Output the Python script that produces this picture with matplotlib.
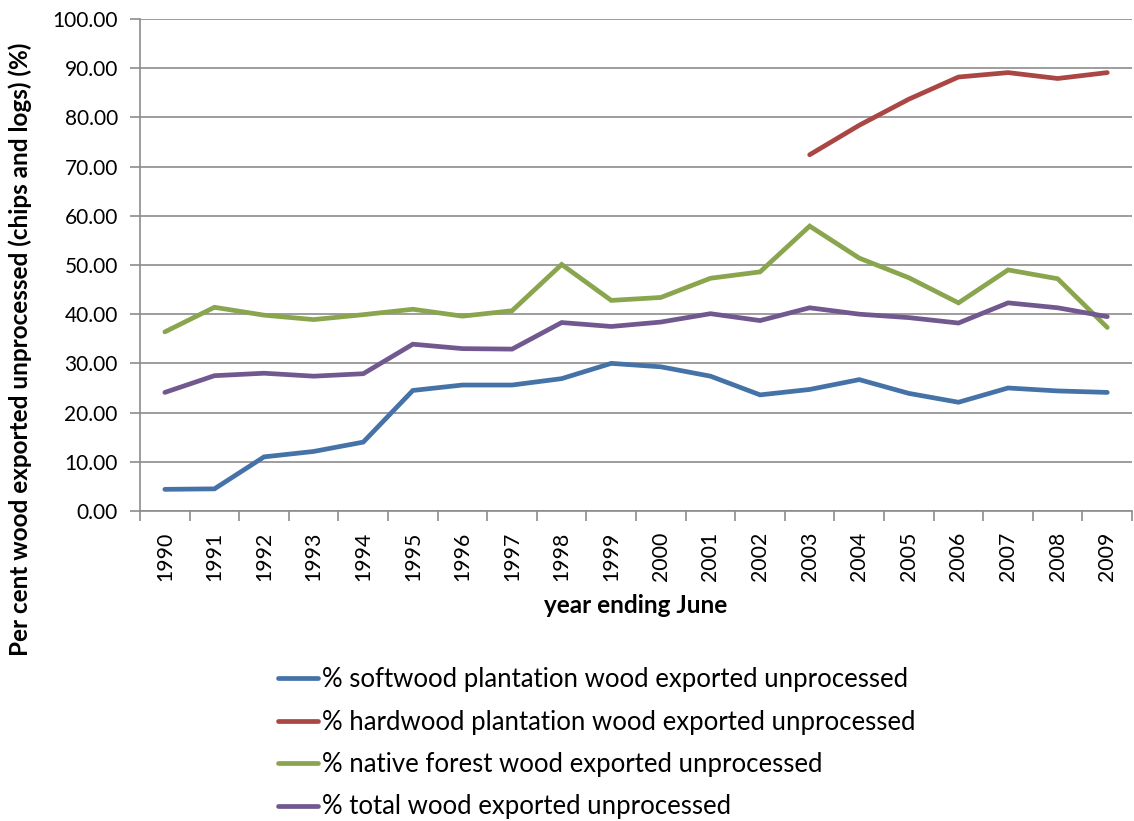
import numpy as np
import matplotlib.pyplot as plt
from matplotlib.ticker import FixedLocator, FormatStrFormatter

plt.rcParams['font.family'] = ['Lato', 'DejaVu Sans']

years = [str(y) for y in range(1990, 2010)]

softwood = [4.4, 4.5, 11.0, 12.1, 14.0, 24.5, 25.6, 25.6, 26.9, 30.0,
            29.3, 27.4, 23.6, 24.7, 26.7, 23.9, 22.1, 25.0, 24.4, 24.1]
hardwood = [np.nan] * 13 + [72.4, 78.4, 83.7, 88.2, 89.1, 87.9, 89.1]
native = [36.4, 41.4, 39.8, 38.9, 39.9, 41.0, 39.6, 40.7, 50.1, 42.8,
          43.4, 47.3, 48.6, 57.9, 51.4, 47.4, 42.3, 49.0, 47.2, 37.3]
total = [24.1, 27.5, 28.0, 27.4, 27.9, 33.9, 33.0, 32.9, 38.3, 37.5,
         38.4, 40.1, 38.7, 41.3, 40.0, 39.3, 38.2, 42.3, 41.3, 39.5]

series = [
    ("% softwood plantation wood exported unprocessed", softwood, "#4572A7"),
    ("% hardwood plantation wood exported unprocessed", hardwood, "#AA4643"),
    ("% native forest wood exported unprocessed", native, "#89A54E"),
    ("% total wood exported unprocessed", total, "#71588F"),
]

fig = plt.figure(figsize=(11.34, 8.21), dpi=100)
ax = fig.add_axes([0.1235, 0.3776, 0.8748, 0.5993])

x = np.arange(len(years))
handles = []
for label, vals, col in series:
    h, = ax.plot(x, vals, color=col, linewidth=3.4, solid_capstyle='round',
                 solid_joinstyle='miter', label=label)
    handles.append(h)

ax.set_xlim(-0.5, len(years) - 0.5)
ax.set_ylim(0, 100)
ax.set_yticks(np.arange(0, 101, 10))
ax.yaxis.set_major_formatter(FormatStrFormatter('%.2f'))
ax.yaxis.grid(True, color='#8c8c8c', linewidth=1.2)
ax.set_axisbelow(True)

# category labels in the middle, tick marks on the boundaries
ax.set_xticks(x)
ax.set_xticklabels(years, rotation=90)
ax.xaxis.set_minor_locator(FixedLocator(np.arange(-0.5, len(years), 1)))
ax.tick_params(axis='x', which='major', length=0, labelsize=15.3, pad=15)
ax.tick_params(axis='x', which='minor', length=7, color='#8c8c8c', width=1.2)
ax.tick_params(axis='y', length=7, color='#8c8c8c', width=1.2, labelsize=15, pad=9)

for s in ['top', 'right']:
    ax.spines[s].set_visible(False)
for s in ['left', 'bottom']:
    ax.spines[s].set_color('#8c8c8c')
    ax.spines[s].set_linewidth(1.2)

ax.set_xlabel("year ending June", fontsize=17.5, fontweight='bold', labelpad=9)
fig.text(0.018, 0.575, "Per cent wood exported unprocessed (chips and logs) (%)",
         rotation=90, ha='center', va='center', fontsize=17.5, fontweight='bold')

fig.legend(handles=handles, loc='upper left', bbox_to_anchor=(0.236, 0.2),
           frameon=False, fontsize=18.5, handlelength=1.55, handletextpad=0.15,
           labelspacing=0.68, borderaxespad=0)

plt.savefig("out.png", dpi=100)
